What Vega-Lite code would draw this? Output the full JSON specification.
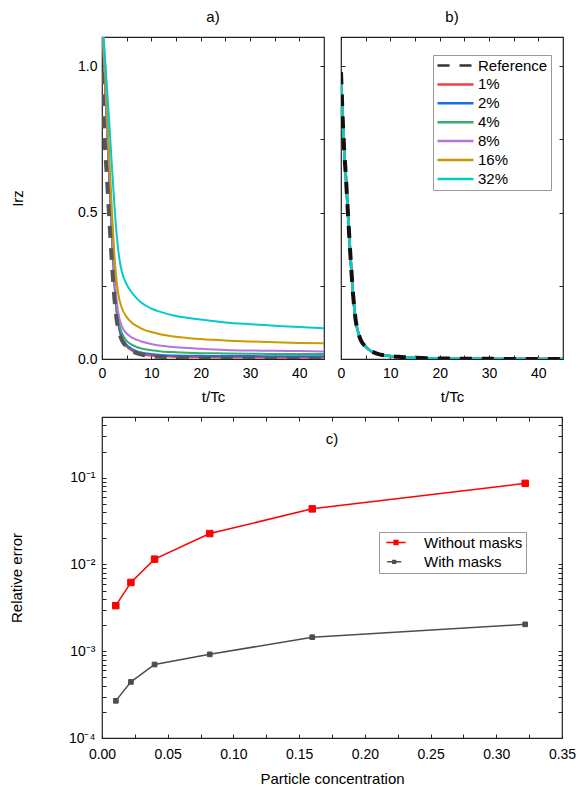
{
  "$schema": "https://vega.github.io/schema/vega-lite/v6.json",
  "padding": {"left": 8, "top": 8, "right": 5, "bottom": 3},
  "background": "#ffffff",
  "config": {
    "font": "Liberation Sans",
    "view": {"stroke": "#222", "strokeWidth": 1.2},
    "axis": {
      "domain": false, "grid": false, "tickColor": "#222", "tickWidth": 1, "tickSize": -4,
      "labelFont": "Liberation Sans", "labelFontSize": 14, "labelColor": "#000", "labelPadding": 9, "labelFlush": false, "labelOverlap": false,
      "titleFont": "Liberation Sans", "titleFontSize": 15, "titleFontWeight": "normal", "titleColor": "#000"
    },
    "legend": {"labelFont": "Liberation Sans", "labelFontSize": 15, "labelColor": "#000"},
    "title": {"font": "Liberation Sans", "fontSize": 15, "fontWeight": "normal", "color": "#000"}
  },
  "spacing": 10,
  "resolve": {"scale": {"color": "independent", "strokeDash": "independent", "stroke": "independent", "fill": "independent", "size": "independent"}},
  "vconcat": [
    {
      "bounds": "flush",
      "spacing": 17,
      "resolve": {"scale": {"color": "independent", "strokeDash": "independent"}},
      "hconcat": [
        {
          "width": 222, "height": 322,
          "title": {"text": "a)", "offset": 12},
          "data": {"values": [
            {"t": 0, "Reference": 0.98, "1%": 1.16, "2%": 1.16, "4%": 1.17, "8%": 1.17, "16%": 1.18, "32%": 1.19},
            {"t": 0.5, "Reference": 0.76, "1%": 0.98, "2%": 0.98, "4%": 0.99, "8%": 1.0, "16%": 1.02, "32%": 1.06},
            {"t": 1, "Reference": 0.62, "1%": 0.80, "2%": 0.80, "4%": 0.81, "8%": 0.82, "16%": 0.86, "32%": 0.93},
            {"t": 1.5, "Reference": 0.47, "1%": 0.61, "2%": 0.62, "4%": 0.63, "8%": 0.64, "16%": 0.68, "32%": 0.80},
            {"t": 2, "Reference": 0.33, "1%": 0.42, "2%": 0.43, "4%": 0.44, "8%": 0.46, "16%": 0.51, "32%": 0.66},
            {"t": 2.5, "Reference": 0.21, "1%": 0.26, "2%": 0.27, "4%": 0.28, "8%": 0.30, "16%": 0.36, "32%": 0.53},
            {"t": 3, "Reference": 0.13, "1%": 0.155, "2%": 0.16, "4%": 0.175, "8%": 0.195, "16%": 0.26, "32%": 0.42},
            {"t": 3.5, "Reference": 0.09, "1%": 0.10, "2%": 0.105, "4%": 0.12, "8%": 0.14, "16%": 0.205, "32%": 0.345},
            {"t": 4, "Reference": 0.065, "1%": 0.07, "2%": 0.077, "4%": 0.09, "8%": 0.112, "16%": 0.175, "32%": 0.30},
            {"t": 5, "Reference": 0.042, "1%": 0.042, "2%": 0.048, "4%": 0.062, "8%": 0.087, "16%": 0.143, "32%": 0.255},
            {"t": 6, "Reference": 0.028, "1%": 0.029, "2%": 0.035, "4%": 0.049, "8%": 0.074, "16%": 0.125, "32%": 0.228},
            {"t": 7, "Reference": 0.02, "1%": 0.021, "2%": 0.027, "4%": 0.041, "8%": 0.066, "16%": 0.113, "32%": 0.208},
            {"t": 8, "Reference": 0.015, "1%": 0.016, "2%": 0.022, "4%": 0.036, "8%": 0.060, "16%": 0.104, "32%": 0.192},
            {"t": 10, "Reference": 0.010, "1%": 0.011, "2%": 0.017, "4%": 0.030, "8%": 0.051, "16%": 0.092, "32%": 0.172},
            {"t": 12, "Reference": 0.007, "1%": 0.009, "2%": 0.014, "4%": 0.026, "8%": 0.045, "16%": 0.084, "32%": 0.160},
            {"t": 15, "Reference": 0.004, "1%": 0.007, "2%": 0.012, "4%": 0.023, "8%": 0.040, "16%": 0.076, "32%": 0.147},
            {"t": 20, "Reference": 0.002, "1%": 0.006, "2%": 0.011, "4%": 0.020, "8%": 0.035, "16%": 0.068, "32%": 0.135},
            {"t": 25, "Reference": 0.001, "1%": 0.005, "2%": 0.010, "4%": 0.019, "8%": 0.031, "16%": 0.063, "32%": 0.125},
            {"t": 30, "Reference": 0.0005, "1%": 0.005, "2%": 0.010, "4%": 0.018, "8%": 0.029, "16%": 0.060, "32%": 0.119},
            {"t": 35, "Reference": 0.0003, "1%": 0.0045, "2%": 0.009, "4%": 0.017, "8%": 0.028, "16%": 0.057, "32%": 0.114},
            {"t": 40, "Reference": 0.0002, "1%": 0.0045, "2%": 0.009, "4%": 0.017, "8%": 0.027, "16%": 0.055, "32%": 0.109},
            {"t": 45, "Reference": 0.0001, "1%": 0.0045, "2%": 0.009, "4%": 0.017, "8%": 0.026, "16%": 0.054, "32%": 0.105}
          ]},
          "transform": [{"fold": ["Reference", "1%", "2%", "4%", "8%", "16%", "32%"], "as": ["series", "value"]}],
          "layer": [
            {
              "transform": [{"filter": "datum.series != 'Reference'"}],
              "mark": {"type": "line", "strokeWidth": 2, "clip": true, "interpolate": "monotone"},
              "encoding": {
                "x": {"field": "t", "type": "quantitative", "scale": {"domain": [0, 45], "nice": false},
                      "axis": {"orient": "bottom", "title": "t/Tc", "values": [0, 5, 10, 15, 20, 25, 30, 35, 40], "labelExpr": "datum.value % 10 == 0 ? datum.label : ''", "labelPadding": 11, "titlePadding": 9}},
                "y": {"field": "value", "type": "quantitative", "scale": {"domain": [0, 1.1], "nice": false},
                      "axis": {"orient": "left", "title": "Irz", "values": [0, 0.25, 0.5, 0.75, 1.0], "format": ".1f", "labelExpr": "(datum.value * 4) % 2 == 0 ? datum.label : ''", "titlePadding": 52}},
                "color": {"field": "series", "type": "nominal",
                          "scale": {"domain": ["Reference", "1%", "2%", "4%", "8%", "16%", "32%"], "range": ["#555555", "#F14040", "#1A6FDF", "#37AD6B", "#B177DE", "#CC9900", "#00CBCC"]},
                          "legend": null}
              }
            },
            {
              "transform": [{"filter": "datum.series == 'Reference'"}],
              "mark": {"type": "line", "strokeWidth": 4, "strokeDash": [12, 10], "color": "#555555", "clip": true, "interpolate": "monotone"},
              "encoding": {
                "x": {"field": "t", "type": "quantitative", "axis": {"orient": "top", "labels": false, "title": null, "values": [0, 5, 10, 15, 20, 25, 30, 35, 40]}},
                "y": {"field": "value", "type": "quantitative", "axis": {"orient": "right", "labels": false, "title": null, "values": [0, 0.25, 0.5, 0.75, 1.0]}}
              }
            }
          ],
          "resolve": {"axis": {"x": "independent", "y": "independent"}}
        },
        {
          "width": 222, "height": 322,
          "title": {"text": "b)", "offset": 12},
          "data": {"values": [
            {"t": 0, "Reference": 0.98, "1%": 0.98, "2%": 0.98, "4%": 0.98, "8%": 0.98, "16%": 0.98, "32%": 0.98},
            {"t": 0.5, "Reference": 0.76, "1%": 0.76, "2%": 0.76, "4%": 0.76, "8%": 0.76, "16%": 0.76, "32%": 0.76},
            {"t": 1, "Reference": 0.62, "1%": 0.62, "2%": 0.62, "4%": 0.62, "8%": 0.62, "16%": 0.62, "32%": 0.62},
            {"t": 1.5, "Reference": 0.47, "1%": 0.47, "2%": 0.47, "4%": 0.47, "8%": 0.47, "16%": 0.47, "32%": 0.47},
            {"t": 2, "Reference": 0.33, "1%": 0.33, "2%": 0.33, "4%": 0.33, "8%": 0.33, "16%": 0.33, "32%": 0.33},
            {"t": 2.5, "Reference": 0.21, "1%": 0.21, "2%": 0.21, "4%": 0.21, "8%": 0.21, "16%": 0.21, "32%": 0.21},
            {"t": 3, "Reference": 0.13, "1%": 0.13, "2%": 0.13, "4%": 0.13, "8%": 0.13, "16%": 0.13, "32%": 0.13},
            {"t": 3.5, "Reference": 0.09, "1%": 0.09, "2%": 0.09, "4%": 0.09, "8%": 0.09, "16%": 0.09, "32%": 0.09},
            {"t": 4, "Reference": 0.065, "1%": 0.065, "2%": 0.065, "4%": 0.065, "8%": 0.065, "16%": 0.065, "32%": 0.065},
            {"t": 5, "Reference": 0.042, "1%": 0.042, "2%": 0.042, "4%": 0.042, "8%": 0.042, "16%": 0.042, "32%": 0.042},
            {"t": 6, "Reference": 0.028, "1%": 0.028, "2%": 0.028, "4%": 0.028, "8%": 0.028, "16%": 0.028, "32%": 0.028},
            {"t": 7, "Reference": 0.02, "1%": 0.02, "2%": 0.02, "4%": 0.02, "8%": 0.02, "16%": 0.02, "32%": 0.02},
            {"t": 8, "Reference": 0.015, "1%": 0.015, "2%": 0.015, "4%": 0.015, "8%": 0.015, "16%": 0.015, "32%": 0.015},
            {"t": 10, "Reference": 0.010, "1%": 0.010, "2%": 0.010, "4%": 0.010, "8%": 0.010, "16%": 0.010, "32%": 0.010},
            {"t": 12, "Reference": 0.007, "1%": 0.007, "2%": 0.007, "4%": 0.007, "8%": 0.007, "16%": 0.007, "32%": 0.007},
            {"t": 15, "Reference": 0.004, "1%": 0.004, "2%": 0.004, "4%": 0.004, "8%": 0.004, "16%": 0.004, "32%": 0.004},
            {"t": 20, "Reference": 0.002, "1%": 0.002, "2%": 0.002, "4%": 0.002, "8%": 0.002, "16%": 0.002, "32%": 0.002},
            {"t": 25, "Reference": 0.001, "1%": 0.001, "2%": 0.001, "4%": 0.001, "8%": 0.001, "16%": 0.001, "32%": 0.001},
            {"t": 30, "Reference": 0.0005, "1%": 0.0005, "2%": 0.0005, "4%": 0.0005, "8%": 0.0005, "16%": 0.0005, "32%": 0.0005},
            {"t": 35, "Reference": 0.0003, "1%": 0.0003, "2%": 0.0003, "4%": 0.0003, "8%": 0.0003, "16%": 0.0003, "32%": 0.0003},
            {"t": 40, "Reference": 0.0002, "1%": 0.0002, "2%": 0.0002, "4%": 0.0002, "8%": 0.0002, "16%": 0.0002, "32%": 0.0002},
            {"t": 45, "Reference": 0.0001, "1%": 0.0001, "2%": 0.0001, "4%": 0.0001, "8%": 0.0001, "16%": 0.0001, "32%": 0.0001}
          ]},
          "transform": [{"fold": ["Reference", "1%", "2%", "4%", "8%", "16%", "32%"], "as": ["series", "value"]}],
          "layer": [
            {
              "transform": [{"filter": "datum.series != 'Reference'"}],
              "mark": {"type": "line", "strokeWidth": 2.5, "clip": true, "interpolate": "monotone"},
              "encoding": {
                "x": {"field": "t", "type": "quantitative", "scale": {"domain": [0, 45], "nice": false},
                      "axis": {"orient": "bottom", "title": "t/Tc", "values": [0, 5, 10, 15, 20, 25, 30, 35, 40], "labelExpr": "datum.value % 10 == 0 ? datum.label : ''", "labelPadding": 11, "titlePadding": 9}},
                "y": {"field": "value", "type": "quantitative", "scale": {"domain": [0, 1.1], "nice": false},
                      "axis": {"orient": "left", "title": null, "labels": false, "values": [0, 0.25, 0.5, 0.75, 1.0]}},
                "color": {"field": "series", "type": "nominal",
                          "scale": {"domain": ["Reference", "1%", "2%", "4%", "8%", "16%", "32%"], "range": ["#333333", "#F14040", "#1A6FDF", "#37AD6B", "#B177DE", "#CC9900", "#00CBCC"]},
                          "legend": {"title": null, "orient": "none", "legendX": 92, "legendY": 18, "symbolType": "M-1,0H5", "symbolSize": 144, "symbolStrokeWidth": 2.5, "labelOffset": 27, "rowPadding": 2.9, "padding": 3, "strokeColor": "#999999", "fillColor": "#ffffff"}},
                "strokeDash": {"field": "series", "type": "nominal",
                          "scale": {"domain": ["Reference", "1%", "2%", "4%", "8%", "16%", "32%"], "range": [[12, 10], [1, 0], [1, 0], [1, 0], [1, 0], [1, 0], [1, 0]]},
                          "legend": {"title": null, "orient": "none", "legendX": 92, "legendY": 18, "symbolType": "M-1,0H5", "symbolSize": 144, "symbolStrokeWidth": 2.5, "labelOffset": 27, "rowPadding": 2.9, "padding": 3, "strokeColor": "#999999", "fillColor": "#ffffff"}}
              }
            },
            {
              "transform": [{"filter": "datum.series == 'Reference'"}],
              "mark": {"type": "line", "strokeWidth": 4, "strokeDash": [12, 10], "color": "#111111", "clip": true, "interpolate": "monotone"},
              "encoding": {
                "x": {"field": "t", "type": "quantitative", "axis": {"orient": "top", "labels": false, "title": null, "values": [0, 5, 10, 15, 20, 25, 30, 35, 40]}},
                "y": {"field": "value", "type": "quantitative", "axis": {"orient": "right", "labels": false, "title": null, "values": [0, 0.25, 0.5, 0.75, 1.0]}}
              }
            }
          ],
          "resolve": {"axis": {"x": "independent", "y": "independent"}}
        }
      ]
    },
    {
      "width": 460, "height": 321,
      "title": {"text": "c)", "offset": -30},
      "data": {"values": [
        {"conc": 0.0105, "err": 0.00335, "method": "Without masks"},
        {"conc": 0.022, "err": 0.0062, "method": "Without masks"},
        {"conc": 0.04, "err": 0.0115, "method": "Without masks"},
        {"conc": 0.082, "err": 0.0227, "method": "Without masks"},
        {"conc": 0.16, "err": 0.0437, "method": "Without masks"},
        {"conc": 0.322, "err": 0.086, "method": "Without masks"},
        {"conc": 0.0105, "err": 0.000268, "method": "With masks"},
        {"conc": 0.022, "err": 0.000443, "method": "With masks"},
        {"conc": 0.04, "err": 0.000703, "method": "With masks"},
        {"conc": 0.082, "err": 0.00092, "method": "With masks"},
        {"conc": 0.16, "err": 0.00145, "method": "With masks"},
        {"conc": 0.322, "err": 0.00204, "method": "With masks"}
      ]},
      "layer": [
        {
          "mark": {"type": "line", "strokeWidth": 1.5},
          "encoding": {
            "x": {"field": "conc", "type": "quantitative", "scale": {"domain": [0, 0.35], "nice": false},
                  "axis": {"orient": "bottom", "title": "Particle concentration", "values": [0, 0.025, 0.05, 0.075, 0.1, 0.125, 0.15, 0.175, 0.2, 0.225, 0.25, 0.275, 0.3, 0.325, 0.35], "labelExpr": "round(datum.value * 1000) % 50 == 0 ? format(datum.value, '.2f') : ''", "labelPadding": 13, "titlePadding": 10}},
            "y": {"field": "err", "type": "quantitative", "scale": {"type": "log", "domain": [0.0001, 0.5], "nice": false},
                  "axis": {"orient": "left", "title": "Relative error", "values": [0.0001, 0.0002, 0.0003, 0.0004, 0.0005, 0.0006, 0.0007, 0.0008, 0.0009, 0.001, 0.002, 0.003, 0.004, 0.005, 0.006, 0.007, 0.008, 0.009, 0.01, 0.02, 0.03, 0.04, 0.05, 0.06, 0.07, 0.08, 0.09, 0.1, 0.2, 0.3, 0.4],
                           "labelExpr": "datum.value == 0.1 ? '10⁻¹' : datum.value == 0.01 ? '10⁻²' : datum.value == 0.001 ? '10⁻³' : datum.value == 0.0001 ? '10⁻⁴' : ''", "labelPadding": 11, "titlePadding": 44}},
            "stroke": {"field": "method", "type": "nominal", "scale": {"domain": ["Without masks", "With masks"], "range": ["#FF0000", "#4D4D4D"]},
                       "legend": {"title": null, "orient": "none", "legendX": 277, "legendY": 115, "symbolType": "M-1,0H1.42M2.58,0H5M1.42,-0.58H2.58V0.58H1.42Z", "symbolSize": 144, "symbolStrokeWidth": 1.5, "labelOffset": 27, "rowPadding": 3.3, "padding": 3, "strokeColor": "#999999", "fillColor": "#ffffff"}}
          }
        },
        {
          "mark": {"type": "square", "filled": true, "opacity": 1, "strokeWidth": 1},
          "encoding": {
            "x": {"field": "conc", "type": "quantitative", "axis": {"orient": "top", "labels": false, "title": null, "values": [0, 0.025, 0.05, 0.075, 0.1, 0.125, 0.15, 0.175, 0.2, 0.225, 0.25, 0.275, 0.3, 0.325, 0.35]}},
            "y": {"field": "err", "type": "quantitative", "axis": {"orient": "right", "labels": false, "title": null, "values": [0.0001, 0.0002, 0.0003, 0.0004, 0.0005, 0.0006, 0.0007, 0.0008, 0.0009, 0.001, 0.002, 0.003, 0.004, 0.005, 0.006, 0.007, 0.008, 0.009, 0.01, 0.02, 0.03, 0.04, 0.05, 0.06, 0.07, 0.08, 0.09, 0.1, 0.2, 0.3, 0.4]}},
            "fill": {"field": "method", "type": "nominal", "scale": {"domain": ["Without masks", "With masks"], "range": ["#FF0000", "#4D4D4D"]},
                     "legend": {"title": null, "orient": "none", "legendX": 277, "legendY": 115, "symbolType": "M-1,0H1.42M2.58,0H5M1.42,-0.58H2.58V0.58H1.42Z", "symbolSize": 144, "symbolStrokeWidth": 1.5, "labelOffset": 27, "rowPadding": 3.3, "padding": 3, "strokeColor": "#999999", "fillColor": "#ffffff"}},
            "stroke": {"field": "method", "type": "nominal",
                     "legend": {"title": null, "orient": "none", "legendX": 277, "legendY": 115, "symbolType": "M-1,0H1.42M2.58,0H5M1.42,-0.58H2.58V0.58H1.42Z", "symbolSize": 144, "symbolStrokeWidth": 1.5, "labelOffset": 27, "rowPadding": 3.3, "padding": 3, "strokeColor": "#999999", "fillColor": "#ffffff"}},
            "size": {"field": "method", "type": "nominal", "scale": {"domain": ["Without masks", "With masks"], "range": [42, 22]}, "legend": null}
          }
        }
      ],
      "resolve": {"axis": {"x": "independent", "y": "independent"}}
    }
  ]
}
